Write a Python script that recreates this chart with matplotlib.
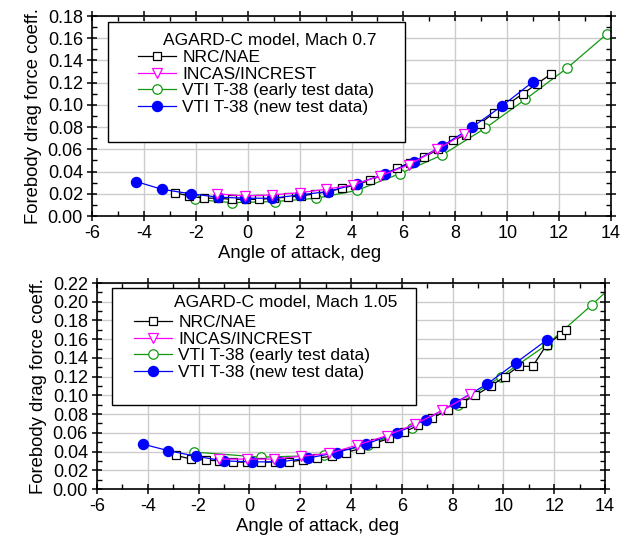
import matplotlib
matplotlib.use("Agg")
import matplotlib.pyplot as plt
import matplotlib.patches as patches
from matplotlib.ticker import MultipleLocator

plt.rcParams['font.family'] = ['Liberation Sans', 'DejaVu Sans']
plt.rcParams['axes.unicode_minus'] = False

# --- Mach 0.7 data ---
nrc07_x = [-2.8, -2.25, -1.7, -1.15, -0.6, -0.05, 0.45, 1.0, 1.55, 2.05, 2.6, 3.1, 3.65, 4.15,
           4.7, 5.2, 5.75, 6.25, 6.8, 7.35, 7.9, 8.4, 8.95, 9.5, 10.05, 10.6, 11.15, 11.7]
nrc07_y = [0.021, 0.018, 0.016, 0.016, 0.015, 0.015, 0.015, 0.016, 0.017, 0.018, 0.020, 0.022, 0.025, 0.028,
           0.032, 0.037, 0.043, 0.048, 0.053, 0.060, 0.068, 0.073, 0.083, 0.093, 0.101, 0.110, 0.119, 0.128]
incas07_x = [-1.2, -0.1, 0.95, 2.0, 3.0, 4.05, 5.1, 6.2, 7.3, 8.35]
incas07_y = [0.020, 0.018, 0.019, 0.021, 0.024, 0.028, 0.036, 0.046, 0.060, 0.074]
early07_x = [-2.05, -0.6, 1.05, 2.65, 4.2, 5.85, 7.5, 9.15, 10.7, 12.3, 13.85]
early07_y = [0.015, 0.012, 0.013, 0.016, 0.023, 0.038, 0.055, 0.079, 0.105, 0.133, 0.164]
new07_x = [-4.3, -3.3, -2.2, -1.15, -0.1, 0.95, 2.0, 3.1, 4.2, 5.3, 6.4, 7.5, 8.65, 9.8, 11.0]
new07_y = [0.031, 0.024, 0.020, 0.017, 0.016, 0.016, 0.019, 0.022, 0.029, 0.038, 0.049, 0.063, 0.080, 0.099, 0.121]

# --- Mach 1.05 data ---
nrc105_x = [-2.9, -2.3, -1.7, -1.2, -0.65, -0.1, 0.45, 1.0, 1.55, 2.1, 2.65, 3.25, 3.8, 4.35,
            4.95, 5.5, 6.1, 6.65, 7.2, 7.8, 8.35, 8.9, 9.5, 10.05, 10.6, 11.15, 11.7, 12.25, 12.45]
nrc105_y = [0.036, 0.032, 0.031, 0.030, 0.029, 0.0285, 0.0285, 0.029, 0.029, 0.031, 0.033, 0.035, 0.039, 0.043,
            0.049, 0.054, 0.061, 0.068, 0.076, 0.084, 0.092, 0.100, 0.110, 0.120, 0.131, 0.131, 0.154, 0.165, 0.170]
incas105_x = [-1.2, -0.1, 0.95, 2.05, 3.15, 4.25, 5.4, 6.5, 7.6, 8.7]
incas105_y = [0.032, 0.032, 0.032, 0.035, 0.038, 0.047, 0.057, 0.069, 0.084, 0.101]
early105_x = [-2.2, 0.45, 2.95, 4.65, 6.4, 8.2, 9.9, 11.7, 13.5, 15.3]
early105_y = [0.0395, 0.034, 0.036, 0.047, 0.065, 0.090, 0.120, 0.154, 0.197, 0.243]
new105_x = [-4.2, -3.2, -2.1, -1.0, 0.1, 1.2, 2.3, 3.45, 4.6, 5.8, 6.95, 8.1, 9.35, 10.5, 11.7]
new105_y = [0.048, 0.041, 0.035, 0.030, 0.029, 0.029, 0.033, 0.039, 0.048, 0.060, 0.074, 0.092, 0.112, 0.135, 0.159]

series_labels = ["NRC/NAE", "INCAS/INCREST", "VTI T-38 (early test data)", "VTI T-38 (new test data)"]
x_ticks = [-6, -4, -2, 0, 2, 4, 6, 8, 10, 12, 14]

fig = plt.figure(figsize=(6.32, 5.43), dpi=100)
ax1 = fig.add_axes([0.1456, 0.6022, 0.8212, 0.3683])
ax2 = fig.add_axes([0.1535, 0.0994, 0.8038, 0.3794])


def draw_panel(ax, nrc, incas, early, new, ymax, title, frame, title_xy, leg_xy, xlab_x):
    h_early, = ax.plot(*early, color='#119911', lw=0.9, marker='o', ms=6.8, mfc='white',
                       mec='#119911', mew=0.9, zorder=2)
    h_nrc, = ax.plot(*nrc, color='black', lw=0.9, marker='s', ms=6.0, mfc='white',
                     mec='black', mew=0.9, zorder=3)
    h_new, = ax.plot(*new, color='#0000ff', lw=0.9, marker='o', ms=7.2, mfc='#0000ff',
                     mec='#0000ff', zorder=4)
    h_incas, = ax.plot(*incas, color='#ff00ff', lw=0.9, marker='v', ms=7.8, mfc='white',
                       mec='#ff00ff', mew=0.9, zorder=5)

    ax.set_xlim(-6, 14)
    ax.set_ylim(0, ymax)
    ax.set_xticks(x_ticks)
    n = int(round(ymax / 0.02)) + 1
    ax.set_yticks([i * 0.02 for i in range(n)])
    ax.set_yticklabels([f"{i * 0.02:.2f}" for i in range(n)])
    ax.xaxis.set_minor_locator(MultipleLocator(1))
    ax.yaxis.set_minor_locator(MultipleLocator(0.01))
    ax.grid(True, which='major', color='#cccccc', lw=1.0, zorder=0)
    ax.set_axisbelow(True)
    ax.tick_params(which='major', direction='inout', length=7, width=1.1, labelsize=13,
                   top=True, right=True, pad=3)
    ax.tick_params(which='minor', direction='in', length=3.5, width=1.0, top=True, right=True)
    for s in ax.spines.values():
        s.set_linewidth(1.2)

    ax.set_xlabel("Angle of attack, deg", fontsize=13.3, labelpad=2, x=xlab_x)
    ax.set_ylabel("Forebody drag force coeff.", fontsize=13.3, labelpad=4)

    # legend frame + title
    x0, y0, x1, y1 = frame
    ax.add_patch(patches.Rectangle((x0, y0), x1 - x0, y1 - y0, transform=ax.transAxes,
                                   fc='white', ec='black', lw=1.0, zorder=6))
    ax.text(title_xy[0], title_xy[1], title, transform=ax.transAxes, fontsize=12.5,
            ha='center', va='center', zorder=7)
    leg = ax.legend([h_nrc, h_incas, h_early, h_new], series_labels, loc='upper left',
                    bbox_to_anchor=leg_xy, borderaxespad=0, borderpad=0, frameon=False,
                    fontsize=12.5, handlelength=2.2, handletextpad=0.35, labelspacing=0.08)
    leg.set_zorder(8)


draw_panel(ax1, (nrc07_x, nrc07_y), (incas07_x, incas07_y), (early07_x, early07_y),
           (new07_x, new07_y), 0.18, "AGARD-C model, Mach 0.7",
           (0.0308, 0.37, 0.603, 0.97), (0.343, 0.88), (0.0886, 0.83), 0.40)
draw_panel(ax2, (nrc105_x, nrc105_y), (incas105_x, incas105_y), (early105_x, early105_y),
           (new105_x, new105_y), 0.22, "AGARD-C model, Mach 1.05",
           (0.0295, 0.408, 0.628, 0.976), (0.372, 0.903), (0.073, 0.845), 0.435)

fig.savefig("out.png", dpi=100)
